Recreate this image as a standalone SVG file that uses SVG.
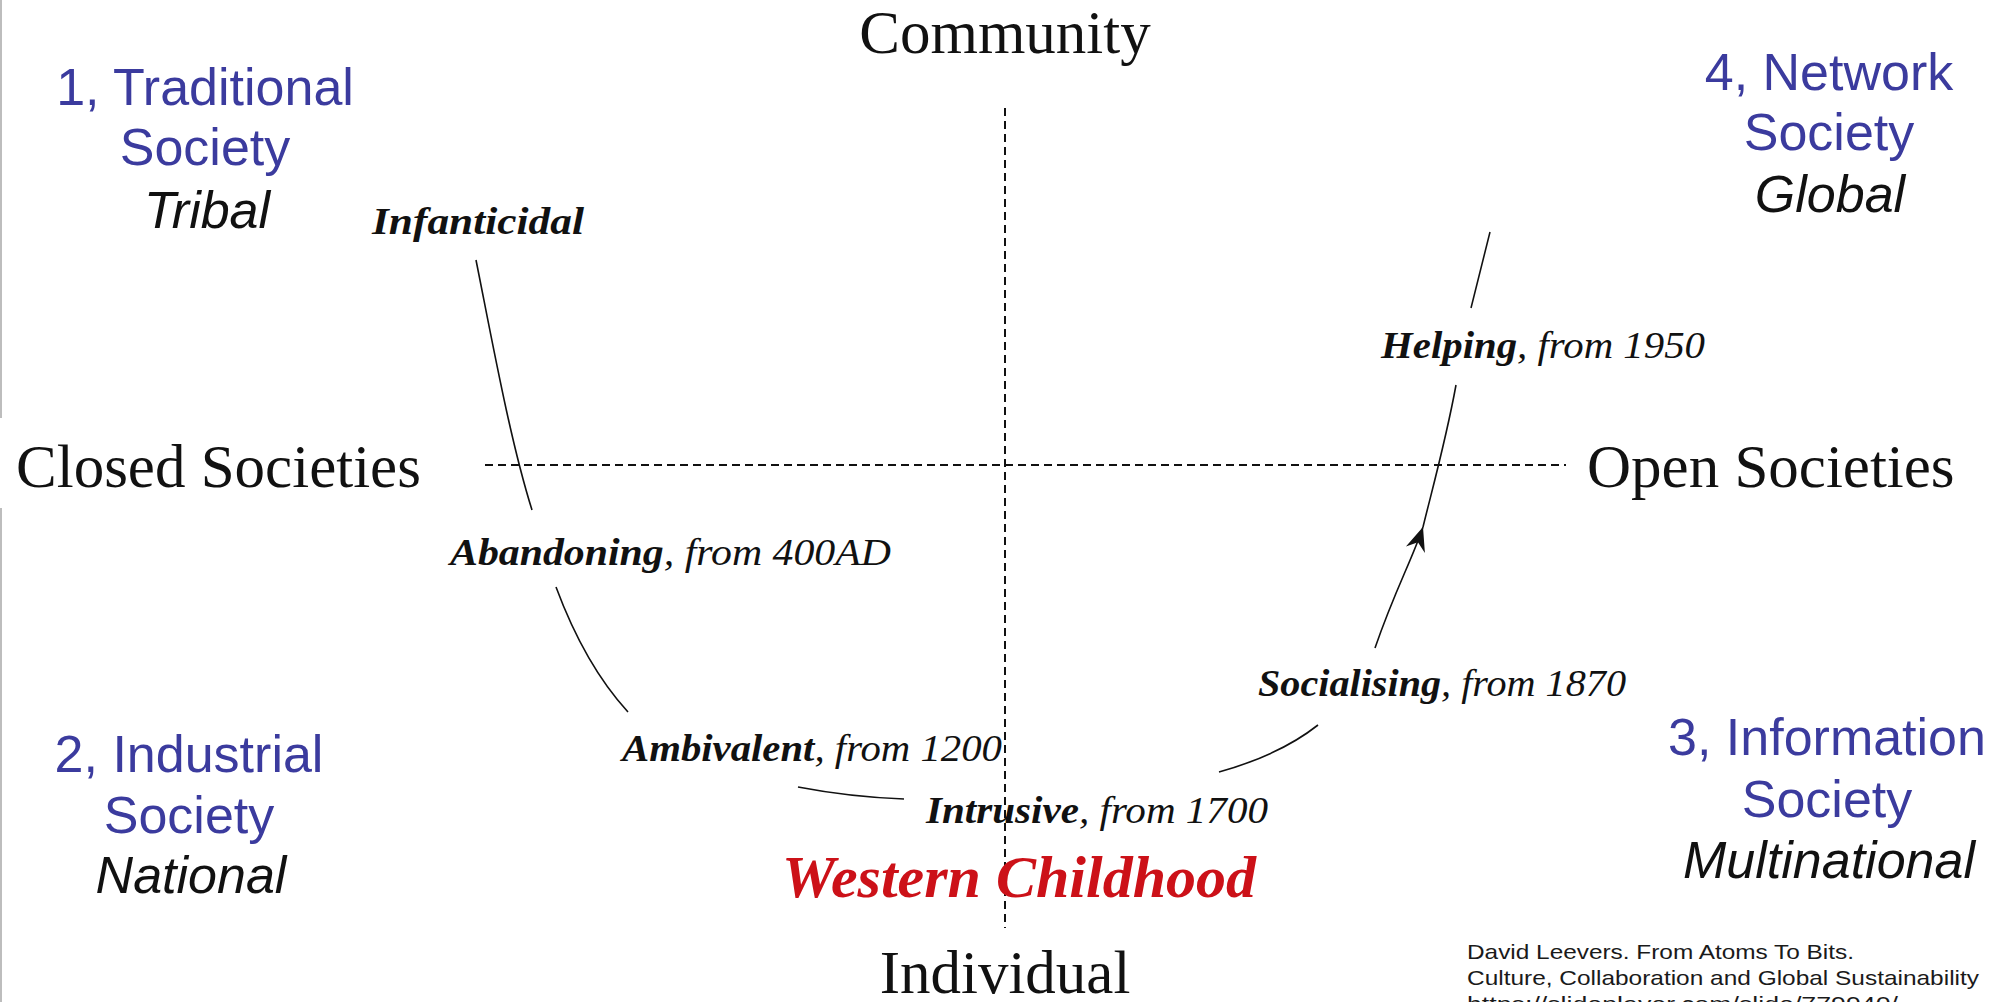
<svg xmlns="http://www.w3.org/2000/svg" width="2006" height="1002" viewBox="0 0 2006 1002">
<style>
.axis{font-family:"Liberation Serif","Times New Roman",serif;font-size:61px;fill:#111}
.quad{font-family:"Liberation Sans",Arial,sans-serif;font-size:52px;text-anchor:middle}
.blue{fill:#3b3b9e}
.blk{fill:#111;font-style:italic}
.lbl{font-family:"Liberation Serif","Times New Roman",serif;font-size:38px;font-style:italic;fill:#111}
.b{font-weight:bold}
.dash{stroke:#111;stroke-width:2;stroke-dasharray:8 5;fill:none}
.curve{stroke:#111;stroke-width:1.6;fill:none}
.cite{font-family:"Liberation Sans",Arial,sans-serif;font-size:21px;fill:#1a1a1a}
</style>
<defs>
<marker id="arr" viewBox="-26 -12 28 24" refX="0" refY="0" markerWidth="28" markerHeight="24" markerUnits="userSpaceOnUse" orient="auto">
<path d="M0,0 L-24,-10 L-16,0 L-24,10 Z" fill="#111"/>
</marker>
</defs>
<rect width="2006" height="1002" fill="#fff"/>
<g id="border">
<line x1="1" y1="0" x2="1" y2="418" stroke="#bdbdbd" stroke-width="2"/>
<line x1="1" y1="508" x2="1" y2="1002" stroke="#bdbdbd" stroke-width="2"/>
</g>
<g id="connectors">
<line class="dash" x1="1005" y1="108" x2="1005" y2="928"/>
<line class="dash" x1="485" y1="465" x2="1566" y2="465"/>
<path class="curve" d="M476,260 C492,340 510,440 532,510"/>
<path class="curve" d="M556,587 Q585,665 628,712"/>
<path class="curve" d="M798,787 Q850,797 904,799"/>
<path class="curve" d="M1219,772 Q1280,755 1318,725"/>
<path class="curve" d="M1375,648 C1395,590 1412,560 1423,527" marker-end="url(#arr)"/>
<path class="curve" d="M1423,527 C1432,490 1446,440 1456,385"/>
<path class="curve" d="M1471,308 L1490,232"/>
</g>
<g id="axis-community"><text class="axis" x="1005" y="53" text-anchor="middle">Community</text></g>
<g id="axis-individual"><text class="axis" x="1005" y="993" text-anchor="middle">Individual</text></g>
<g id="axis-closed"><text class="axis" x="16" y="487">Closed Societies</text></g>
<g id="axis-open"><text class="axis" x="1587" y="487">Open Societies</text></g>
<g id="q1">
<text class="quad blue" x="205" y="105">1, Traditional</text>
<text class="quad blue" x="205" y="165">Society</text>
<text class="quad blk" x="207" y="228">Tribal</text>
</g>
<g id="q4">
<text class="quad blue" x="1829" y="90">4, Network</text>
<text class="quad blue" x="1829" y="150">Society</text>
<text class="quad blk" x="1830" y="212">Global</text>
</g>
<g id="q2">
<text class="quad blue" x="189" y="772">2, Industrial</text>
<text class="quad blue" x="189" y="833">Society</text>
<text class="quad blk" x="191" y="893">National</text>
</g>
<g id="q3">
<text class="quad blue" x="1827" y="755">3, Information</text>
<text class="quad blue" x="1827" y="817">Society</text>
<text class="quad blk" x="1829" y="878">Multinational</text>
</g>
<g id="stage-infanticidal"><text class="lbl b" x="372" y="234" textLength="212" lengthAdjust="spacingAndGlyphs">Infanticidal</text></g>
<g id="stage-abandoning"><text class="lbl" x="450" y="565" textLength="441" lengthAdjust="spacingAndGlyphs"><tspan class="b">Abandoning</tspan>, from 400AD</text></g>
<g id="stage-ambivalent"><text class="lbl" x="622" y="761" textLength="380" lengthAdjust="spacingAndGlyphs"><tspan class="b">Ambivalent</tspan>, from 1200</text></g>
<g id="stage-intrusive"><text class="lbl" x="926" y="823" textLength="342" lengthAdjust="spacingAndGlyphs"><tspan class="b">Intrusive</tspan>, from 1700</text></g>
<g id="stage-socialising"><text class="lbl" x="1258" y="696" textLength="368" lengthAdjust="spacingAndGlyphs"><tspan class="b">Socialising</tspan>, from 1870</text></g>
<g id="stage-helping"><text class="lbl" x="1381" y="358" textLength="324" lengthAdjust="spacingAndGlyphs"><tspan class="b">Helping</tspan>, from 1950</text></g>
<g id="title"><text x="1019" y="897" text-anchor="middle" font-family="Liberation Serif, Times New Roman, serif" font-size="60" font-weight="bold" font-style="italic" fill="#cc1118">Western Childhood</text></g>
<g id="citation">
<text class="cite" x="1467" y="959" textLength="387" lengthAdjust="spacingAndGlyphs">David Leevers. From Atoms To Bits.</text>
<text class="cite" x="1467" y="985" textLength="512" lengthAdjust="spacingAndGlyphs">Culture, Collaboration and Global Sustainability</text>
<text class="cite" x="1467" y="1011" textLength="431" lengthAdjust="spacingAndGlyphs">https://slideplayer.com/slide/779940/</text>
</g>
</svg>
